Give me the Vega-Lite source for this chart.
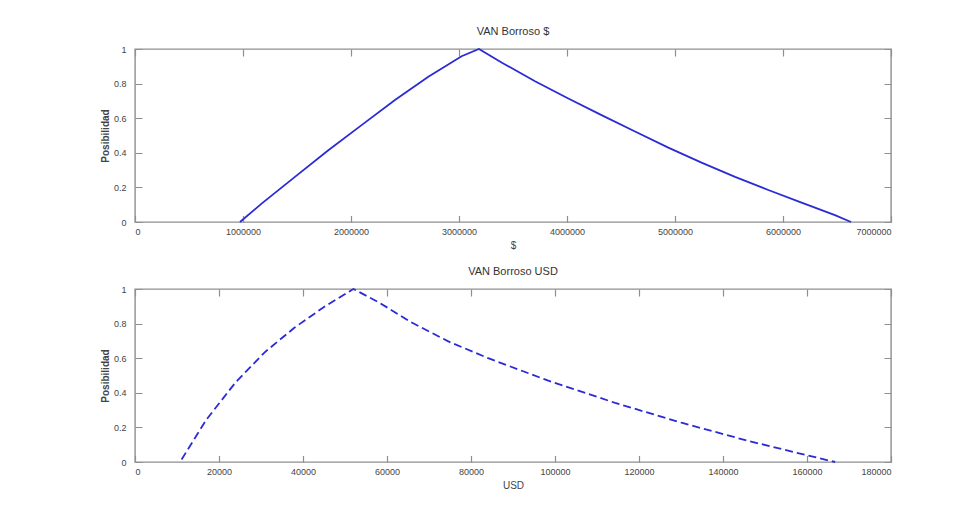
{
  "$schema": "https://vega.github.io/schema/vega-lite/v6.json",
  "background": "white",
  "padding": {"left": 99, "top": 25, "right": 70, "bottom": 20},
  "spacing": 14,
  "config": {
    "font": "Liberation Sans",
    "view": {"stroke": "#8f8f8f", "strokeWidth": 1.4},
    "axis": {
      "domain": false,
      "ticks": false,
      "grid": true,
      "gridColor": "#8f8f8f",
      "gridWidth": 1.2,
      "labelFont": "Liberation Sans",
      "labelFontSize": 9,
      "labelColor": "#444444",
      "titleFont": "Liberation Sans",
      "titleColor": "#444444",
      "titleFontWeight": "normal",
      "titleFontSize": 10
    },
    "axisX": {"gridDash": [7, 159.6], "labelPadding": 5, "titlePadding": 4},
    "axisY": {"gridDash": [7, 742], "labelPadding": 9, "titlePadding": 3, "titleFontWeight": "bold"},
    "title": {"font": "Liberation Sans", "fontSize": 11, "fontWeight": "normal", "color": "#333333", "offset": 8}
  },
  "vconcat": [
    {
      "title": "VAN Borroso $",
      "width": 756,
      "height": 173,
      "data": {"values": [
        {"x": 972000, "y": 0},
        {"x": 1172000, "y": 0.106},
        {"x": 1481000, "y": 0.261},
        {"x": 1790000, "y": 0.415},
        {"x": 2098000, "y": 0.56},
        {"x": 2407000, "y": 0.705},
        {"x": 2716000, "y": 0.84},
        {"x": 3024000, "y": 0.958},
        {"x": 3185000, "y": 1},
        {"x": 3394000, "y": 0.922},
        {"x": 3704000, "y": 0.814},
        {"x": 4012000, "y": 0.714},
        {"x": 4320000, "y": 0.618},
        {"x": 4630000, "y": 0.523},
        {"x": 4938000, "y": 0.43},
        {"x": 5246000, "y": 0.343},
        {"x": 5556000, "y": 0.261},
        {"x": 5864000, "y": 0.185},
        {"x": 6172000, "y": 0.112},
        {"x": 6481000, "y": 0.04},
        {"x": 6630000, "y": 0}
      ]},
      "mark": {"type": "line", "color": "#2b2bd6", "strokeWidth": 1.8},
      "encoding": {
        "x": {"field": "x", "type": "quantitative",
          "scale": {"domain": [0, 7000000], "nice": false, "zero": false},
          "axis": {"title": "$", "values": [0, 1000000, 2000000, 3000000, 4000000, 5000000, 6000000, 7000000], "format": "d"}},
        "y": {"field": "y", "type": "quantitative",
          "scale": {"domain": [0, 1], "nice": false},
          "axis": {"title": "Posibilidad", "values": [0, 0.2, 0.4, 0.6, 0.8, 1], "format": "~g"}},
        "order": {"field": "x", "type": "quantitative"}
      }
    },
    {
      "title": "VAN Borroso USD",
      "width": 756,
      "height": 173,
      "data": {"values": [
        {"x": 11100, "y": 0.015},
        {"x": 17000, "y": 0.245},
        {"x": 24000, "y": 0.462},
        {"x": 31000, "y": 0.637},
        {"x": 38000, "y": 0.777},
        {"x": 45000, "y": 0.896},
        {"x": 52000, "y": 1},
        {"x": 57900, "y": 0.925},
        {"x": 65900, "y": 0.806},
        {"x": 74600, "y": 0.697},
        {"x": 84100, "y": 0.6},
        {"x": 98400, "y": 0.47},
        {"x": 114300, "y": 0.342},
        {"x": 130100, "y": 0.227},
        {"x": 146000, "y": 0.122},
        {"x": 160300, "y": 0.037},
        {"x": 166700, "y": 0}
      ]},
      "mark": {"type": "line", "color": "#2b2bd6", "strokeWidth": 1.8, "strokeDash": [8, 4]},
      "encoding": {
        "x": {"field": "x", "type": "quantitative",
          "scale": {"domain": [0, 180000], "nice": false, "zero": false},
          "axis": {"title": "USD", "values": [0, 20000, 40000, 60000, 80000, 100000, 120000, 140000, 160000, 180000], "format": "d"}},
        "y": {"field": "y", "type": "quantitative",
          "scale": {"domain": [0, 1], "nice": false},
          "axis": {"title": "Posibilidad", "values": [0, 0.2, 0.4, 0.6, 0.8, 1], "format": "~g"}},
        "order": {"field": "x", "type": "quantitative"}
      }
    }
  ]
}
